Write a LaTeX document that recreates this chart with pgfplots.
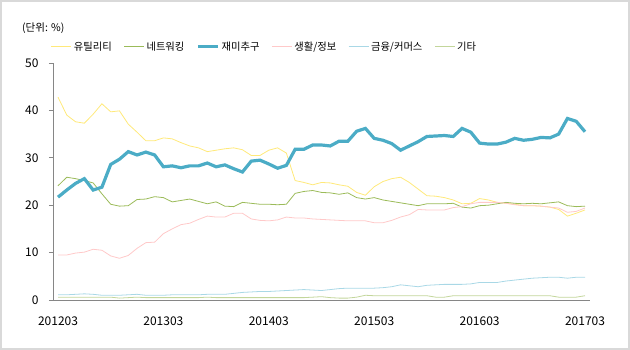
\documentclass[border=0pt]{standalone}
\usepackage{fontspec}
\setmainfont{Noto Sans CJK KR}
\usepackage{pgfplots}
\pgfplotsset{compat=1.18}
\usepackage{pgfplotstable}
\definecolor{cUtil}{HTML}{FFE97A}
\definecolor{cNet}{HTML}{9BBB59}
\definecolor{cFun}{HTML}{4BACC6}
\definecolor{cLife}{HTML}{FFC9C9}
\definecolor{cFin}{HTML}{A9D8E6}
\definecolor{cEtc}{HTML}{C3D69B}
\definecolor{axgray}{HTML}{868686}
\definecolor{framegray}{HTML}{D9D9D9}
\pgfplotstableread{
i util net fun life fin etc
0 42.8 24.1 21.7 9.5 1.1 0.6
1 39.0 25.9 23.2 9.5 1.1 0.6
2 37.6 25.6 24.6 9.9 1.2 0.6
3 37.3 25.2 25.6 10.1 1.3 0.6
4 39.2 24.7 23.2 10.7 1.2 0.6
5 41.4 22.4 23.8 10.5 1.0 0.6
6 39.7 20.2 28.6 9.3 1.0 0.6
7 39.9 19.8 29.7 8.8 1.0 0.4
8 37.1 19.9 31.3 9.4 1.1 0.5
9 35.4 21.2 30.6 10.9 1.2 0.6
10 33.6 21.3 31.2 12.1 1.0 0.5
11 33.6 21.8 30.6 12.2 1.0 0.5
12 34.2 21.6 28.1 14.0 1.0 0.5
13 34.0 20.7 28.3 15.0 1.1 0.5
14 33.2 21.0 27.9 15.9 1.1 0.5
15 32.5 21.3 28.3 16.2 1.1 0.5
16 32.1 20.8 28.3 17.0 1.1 0.5
17 31.3 20.3 28.9 17.7 1.2 0.6
18 31.6 20.7 28.1 17.5 1.2 0.5
19 31.9 19.8 28.5 17.5 1.2 0.5
20 32.1 19.7 27.7 18.3 1.4 0.5
21 31.7 20.6 27.0 18.3 1.6 0.5
22 30.5 20.4 29.3 17.1 1.7 0.5
23 30.5 20.2 29.5 16.8 1.8 0.5
24 31.6 20.2 28.7 16.7 1.8 0.5
25 32.1 20.1 27.8 16.9 1.9 0.5
26 31.0 20.2 28.4 17.5 2.0 0.5
27 25.2 22.5 31.8 17.3 2.1 0.5
28 24.8 22.9 31.8 17.3 2.2 0.5
29 24.3 23.1 32.7 17.1 2.1 0.6
30 24.8 22.7 32.7 17.0 2.0 0.7
31 24.7 22.6 32.5 16.9 2.2 0.5
32 24.3 22.3 33.5 16.8 2.4 0.4
33 24.0 22.6 33.5 16.7 2.5 0.4
34 22.7 21.6 35.6 16.7 2.5 0.6
35 22.1 21.3 36.2 16.7 2.5 1.0
36 23.9 21.6 34.1 16.3 2.5 0.9
37 25.0 21.1 33.7 16.3 2.6 0.9
38 25.6 20.8 33.0 16.8 2.8 0.9
39 25.9 20.5 31.6 17.5 3.2 0.9
40 24.8 20.2 32.5 18.0 3.0 0.9
41 23.4 19.9 33.4 19.1 2.8 0.9
42 22.0 20.3 34.5 19.0 3.1 0.9
43 21.9 20.3 34.6 19.0 3.2 0.6
44 21.6 20.3 34.7 19.0 3.3 0.6
45 21.1 20.4 34.5 19.5 3.3 0.9
46 20.3 19.6 36.2 19.7 3.3 0.9
47 20.4 19.4 35.4 20.3 3.4 0.9
48 21.4 19.9 33.1 20.6 3.7 0.9
49 21.1 20.0 32.9 20.6 3.7 0.9
50 20.6 20.3 32.9 20.6 3.7 0.9
51 20.4 20.6 33.3 20.4 4.0 0.9
52 20.2 20.4 34.1 20.1 4.2 0.9
53 19.9 20.3 33.7 19.9 4.4 0.9
54 19.9 20.4 33.9 19.9 4.6 0.9
55 19.8 20.3 34.3 19.8 4.7 0.9
56 19.6 20.5 34.2 19.6 4.8 0.9
57 19.1 20.7 35.0 19.4 4.8 0.6
58 17.7 19.9 38.3 18.5 4.6 0.6
59 18.3 19.7 37.7 18.7 4.8 0.6
60 19.0 19.8 35.5 19.4 4.8 0.9
}\data
\begin{document}
\begin{tikzpicture}
\useasboundingbox (0bp,0bp) rectangle (630bp,350bp);
\draw[line width=2bp, color=framegray] (1bp,1bp) rectangle (629bp,349bp);
\node[anchor=west, inner sep=0pt, font=\fontsize{10.5bp}{12bp}\selectfont] at (22bp,322bp) {(단위: \%)};
\begin{axis}[
  at={(53bp,50bp)}, anchor=south west,
  scale only axis, width=537bp, height=237bp,
  xmin=-0.57, xmax=60.57, ymin=0, ymax=50,
  axis x line*=bottom, axis y line*=left,
  axis line style={color=axgray, line width=0.8bp},
  xtick={0,12,24,36,48,60},
  xticklabels={201203,201303,201403,201503,201603,201703},
  ytick={0,10,20,30,40,50},
  tick align=outside, major tick length=4bp,
  xtick style={draw=none},
  ytick style={color=axgray, line width=0.8bp},
  tick label style={font=\fontsize{12bp}{14bp}\selectfont, text=black},
  /pgf/number format/assume math mode=true,
  yticklabel style={xshift=-7bp},
  xticklabel style={yshift=-9bp},
  legend columns=6,
  legend style={at={(-0.004,1.069)}, anchor=west, draw=none, fill=none,
    font=\fontsize{10.3bp}{12bp}\selectfont, inner sep=0pt,
    /tikz/every even column/.append style={column sep=10bp}},
  legend image code/.code={\draw[#1] (0bp,0bp) -- (20bp,0bp);},
]
\addplot[cUtil, line width=0.8bp] table[x=i,y=util]{\data};
\addlegendentry{유틸리티}
\addplot[cNet, line width=0.8bp] table[x=i,y=net]{\data};
\addlegendentry{네트워킹}
\addplot[cFun, line width=3.2bp] table[x=i,y=fun]{\data};
\addlegendentry{재미추구}
\addplot[cLife, line width=0.8bp] table[x=i,y=life]{\data};
\addlegendentry{생활/정보}
\addplot[cFin, line width=0.8bp] table[x=i,y=fin]{\data};
\addlegendentry{금융/커머스}
\addplot[cEtc, line width=0.8bp] table[x=i,y=etc]{\data};
\addlegendentry{기타}
\end{axis}
\end{tikzpicture}
\end{document}
